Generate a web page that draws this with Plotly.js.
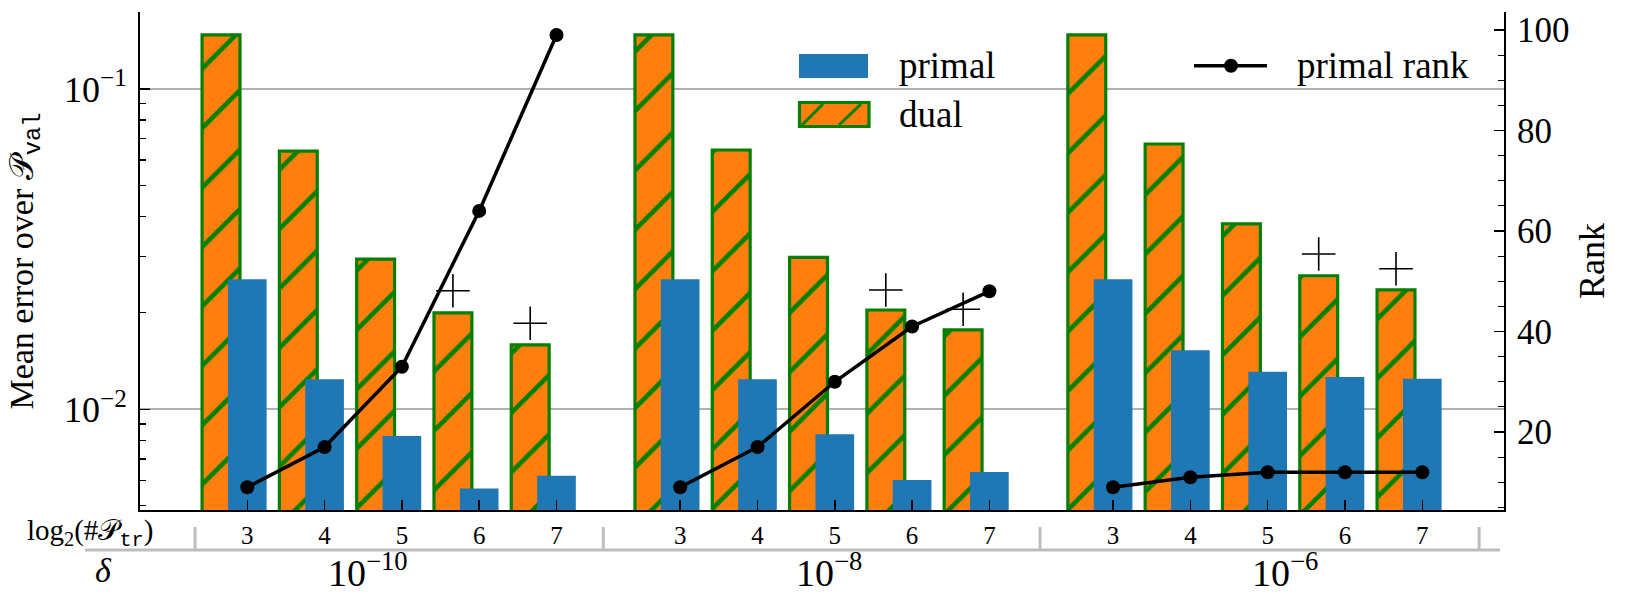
<!DOCTYPE html>
<html>
<head>
<meta charset="utf-8">
<script src="https://cdn.plot.ly/plotly-3.0.1.min.js"></script>
<style>
  html, body { margin: 0; padding: 0; background: #fff; }
  #chart { width: 1626px; height: 602px; }
</style>
</head>
<body>
<div id="chart"></div>
<script>
// ---- data ----
const deltas = ['10<sup>−10</sup>', '10<sup>−8</sup>', '10<sup>−6</sup>'];
const sizes = ['3', '4', '5', '6', '7'];   // log2(#P_tr)

// mean error over P_val, one row per delta
const dualErr = [
  0.1475, 0.0640, 0.02945, 0.01999, 0.01588,
  0.1475, 0.0645, 0.02981, 0.02042, 0.01769,
  0.1475, 0.06735, 0.0379, 0.02612, 0.02358
];
const primalErr = [
  0.02546, 0.01241, 0.008254, 0.005655, 0.006206,
  0.02546, 0.01241, 0.008356, 0.006016, 0.006371,
  0.02546, 0.01528, 0.0131, 0.01261, 0.01246
];
const primalRank = [
  9, 17, 33, 64, 99,
  9, 17, 30, 41, 48,
  9, 11, 12, 12, 12
];
// "+" markers drawn above some dual bars
const plusMark = [
  null, null, null, 0.02346, 0.01856,
  null, null, null, 0.02358, 0.02052,
  null, null, null, 0.03054, 0.02748
];

// ---- layout constants ----
const GROUP_STEP = 5.6;     // x distance between delta groups
const DUAL_SHIFT = 0.34;    // dual bar sits left of the primal bar
const C = { blue: '#1f77b4', orange: '#ff7f0e', green: '#008000', grid: '#b0b0b0', sep: '#bdbdbd' };
const FONT = 'Liberation Serif, DejaVu Serif, serif';
const TT = (s) => `<span style="font-family:Liberation Mono">${s}</span>`;

const W = 1626, H = 602;
const M = { l: 140, r: 122, t: 12, b: 92 };
const plotW = W - M.l - M.r, plotH = H - M.t - M.b;
const px = (x) => (x - M.l) / plotW;           // pixel -> paper (decorations only)
const py = (y) => (H - M.b - y) / plotH;

const xs = [];
deltas.forEach((d, g) => sizes.forEach((s, i) => xs.push(g * GROUP_STEP + i)));
const xsDual = xs.map(x => x - DUAL_SHIFT);

const traces = [
  {
    type: 'bar', name: 'dual', x: xs, y: dualErr,
    width: 0.49, offset: -DUAL_SHIFT - 0.245,
    marker: {
      color: C.orange,
      line: { color: C.green, width: 3.2 },
      pattern: { shape: '/', fgcolor: C.green, bgcolor: C.orange, size: 42, solidity: 0.11 }
    },
    hoverinfo: 'y'
  },
  {
    type: 'bar', name: 'primal', x: xs, y: primalErr,
    width: 0.5, offset: -0.25,
    marker: { color: C.blue, line: { width: 0 } },
    hoverinfo: 'y'
  },
  {
    type: 'scatter', mode: 'markers', x: xsDual, y: plusMark,
    marker: { symbol: 'cross-thin', size: 24, line: { color: '#000', width: 1.6 } },
    hoverinfo: 'skip'
  }
];

// one rank line per delta group
deltas.forEach((d, g) => {
  const a = g * sizes.length, b = a + sizes.length;
  traces.push({
    type: 'scatter', mode: 'lines+markers', name: 'primal rank', yaxis: 'y2',
    x: xs.slice(a, b), y: primalRank.slice(a, b),
    line: { color: '#000', width: 3.5 },
    marker: { color: '#000', size: 14 }
  });
});

const minorLog = [0.005, 0.006, 0.007, 0.008, 0.009, 0.02, 0.03, 0.04, 0.05, 0.06, 0.07, 0.08, 0.09];
const groupLabelX = [1.555, 7.53, 13.42];
const groupEdges = [-0.676, 4.605, 10.255, 15.935];

const shapes = [
  // category/delta rule below the tick labels
  { type: 'line', xref: 'paper', yref: 'paper', x0: px(85), x1: px(1500), y0: py(550), y1: py(550),
    line: { color: C.sep, width: 3 } },
  ...groupEdges.map(x => ({ type: 'line', xref: 'x', yref: 'paper', x0: x, x1: x, y0: py(527), y1: py(550),
    line: { color: C.sep, width: 3 } })),
  // legend patches
  { type: 'rect', xref: 'paper', yref: 'paper', x0: px(799), x1: px(868), y0: py(54), y1: py(78),
    fillcolor: C.blue, line: { width: 0 } },
  { type: 'rect', xref: 'paper', yref: 'paper', x0: px(799.5), x1: px(869), y0: py(102.5), y1: py(126.5),
    fillcolor: C.orange, line: { color: C.green, width: 3.2 } },
  { type: 'line', xref: 'paper', yref: 'paper', x0: px(802), x1: px(823), y0: py(125), y1: py(104),
    line: { color: C.green, width: 3 } },
  { type: 'line', xref: 'paper', yref: 'paper', x0: px(839), x1: px(861), y0: py(125), y1: py(104),
    line: { color: C.green, width: 3 } },
  { type: 'line', xref: 'paper', yref: 'paper', x0: px(1194), x1: px(1267), y0: py(65.7), y1: py(65.7),
    line: { color: '#000', width: 3.5 } },
  { type: 'circle', xref: 'paper', yref: 'paper', x0: px(1224), x1: px(1238), y0: py(58.7), y1: py(72.7),
    fillcolor: '#000', line: { width: 0 } }
];

const annotations = [
  ...deltas.map((d, g) => ({ x: groupLabelX[g], xref: 'x', y: py(570), yref: 'paper', text: d,
    showarrow: false, xanchor: 'center', yanchor: 'middle', font: { size: 38 } })),
  { x: px(90), xref: 'paper', y: py(533), yref: 'paper', showarrow: false, xanchor: 'center', yanchor: 'middle',
    text: 'log<sub>2</sub>(#𝒫<sub>' + TT('tr') + '</sub>)', font: { size: 29 } },
  { x: px(103), xref: 'paper', y: py(570), yref: 'paper', showarrow: false, xanchor: 'center', yanchor: 'middle',
    text: '<i>δ</i>', font: { size: 34 } },
  { x: px(897), xref: 'paper', y: py(65), yref: 'paper', showarrow: false, xanchor: 'left', yanchor: 'middle',
    text: 'primal', font: { size: 37 } },
  { x: px(897), xref: 'paper', y: py(114), yref: 'paper', showarrow: false, xanchor: 'left', yanchor: 'middle',
    text: 'dual', font: { size: 37 } },
  { x: px(1295), xref: 'paper', y: py(65), yref: 'paper', showarrow: false, xanchor: 'left', yanchor: 'middle',
    text: 'primal rank', font: { size: 37 } }
];

const layout = {
  width: W, height: H,
  margin: M,
  paper_bgcolor: '#fff', plot_bgcolor: '#fff',
  font: { family: FONT, color: '#000', size: 30 },
  barmode: 'overlay',
  showlegend: false,
  xaxis: {
    range: [-1.388, 16.257],
    tickmode: 'array', tickvals: xs, ticktext: xs.map((x, k) => sizes[k % sizes.length]),
    ticks: 'inside', ticklen: 10, tickwidth: 1.5, tickcolor: '#000',
    tickfont: { size: 25 }, ticklabelstandoff: 2,
    showline: true, linecolor: '#000', linewidth: 2,
    showgrid: false, zeroline: false, fixedrange: true
  },
  yaxis: {
    type: 'log', range: [-2.3144, -0.7596],
    tickmode: 'array', tickvals: [0.01, 0.1], ticktext: ['10<sup>−2</sup>', '10<sup>−1</sup>'],
    ticks: 'inside', ticklen: 10, tickwidth: 1.5, tickcolor: '#000',
    tickfont: { size: 36 }, ticklabelstandoff: 4,
    minor: { tickmode: 'array', tickvals: minorLog, ticks: 'inside', ticklen: 6, tickwidth: 1.2, tickcolor: '#000', showgrid: false },
    showline: true, linecolor: '#000', linewidth: 2,
    showgrid: true, gridcolor: C.grid, gridwidth: 1.7, zeroline: false,
    title: { text: 'Mean error over 𝒫<sub>' + TT('val') + '</sub>', font: { size: 34 }, standoff: 20 },
    automargin: false
  },
  yaxis2: {
    overlaying: 'y', side: 'right', range: [4.48, 103.58],
    tickmode: 'array', tickvals: [20, 40, 60, 80, 100],
    ticks: 'inside', ticklen: 10, tickwidth: 1.5, tickcolor: '#000',
    tickfont: { size: 35 }, ticklabelstandoff: 4,
    minor: { dtick: 5, ticks: 'inside', ticklen: 6, tickwidth: 1.2, tickcolor: '#000', showgrid: false },
    showline: true, linecolor: '#000', linewidth: 2,
    showgrid: false, zeroline: false,
    title: { text: 'Rank', font: { size: 36 }, standoff: 10 },
    automargin: false
  },
  shapes, annotations
};

Plotly.newPlot('chart', traces, layout, { displayModeBar: false, staticPlot: true });
</script>
</body>
</html>
